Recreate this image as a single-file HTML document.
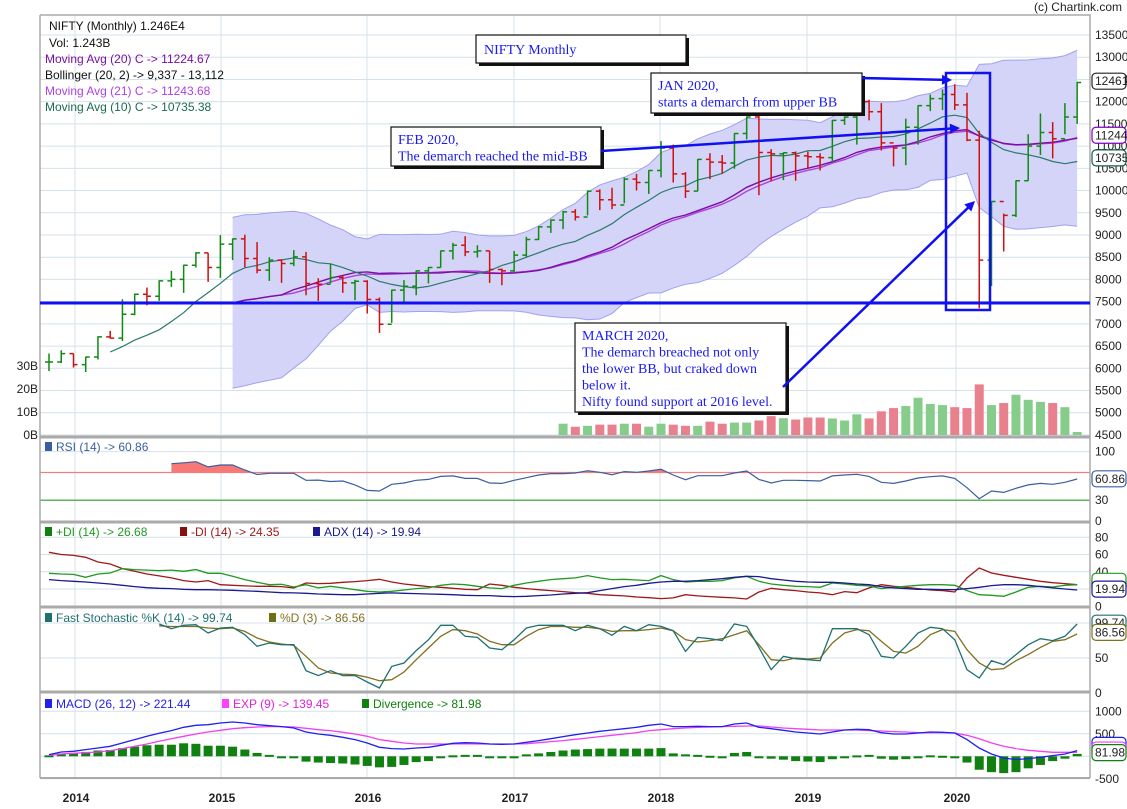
<!DOCTYPE html>
<html><head><meta charset="utf-8"><style>
body{margin:0;background:#fff;}
svg{display:block;font-family:"Liberation Sans",sans-serif;}
.ax{font-size:12px;fill:#222;}
.lg{font-size:12px;}
.an{font-family:"Liberation Serif",serif;font-size:14px;fill:#1a1aee;}
</style></head><body>
<svg id="c" width="1127" height="809" viewBox="0 0 1127 809" xmlns="http://www.w3.org/2000/svg">
<defs>
<clipPath id="rsiclip"><rect x="40" y="438" width="1050" height="34.5"/></clipPath>
</defs>
<g id="grid"></g>
<g id="bands"></g>
<g id="vol"></g>
<g id="lines"></g>
<g id="bars"></g>
<g id="ind"></g>
<g id="frame"></g>
<g id="labels"></g>
<g id="notes"></g>
</svg>
<script>
const highs=[6332,6406,6332,6264,6720,6841,7555,7680,7818,7980,8192,8330,8610,8598,8996,8925,9009,8838,8500,8456,8658,8620,8026,8358,8098,7990,7980,7593,7770,7983,8200,8280,8650,8823,8974,8770,8642,8246,8642,8958,9199,9350,9540,9582,10001,10025,10064,10297,10374,10460,11112,11034,10413,10710,10840,10801,11290,11670,11772,10933,10860,10879,10879,10840,11590,11670,12083,12044,11966,10996,11617,11920,12160,12277,12393,12199,11345,9760,9481,10230,11267,11733,11539,11966,12445];
const lows=[5940,6120,6017,5917,6197,6670,6615,7194,7420,7516,7832,7697,8268,7944,8035,8433,8275,8140,7967,7922,8298,7645,7516,7908,7697,7532,7232,6796,7021,7494,7645,7908,8268,8449,8523,8494,7922,7870,8170,8508,8883,9048,9132,9326,9442,9559,9582,9714,10001,9924,10297,10180,9831,9986,10258,10374,10491,11151,9893,10203,10235,10219,10491,10452,10646,11477,11034,11578,10902,10545,10568,11034,11788,11811,11811,11112,7350,7850,8627,9404,10219,10801,10724,11267,11500];
const closes=[6143,6330,6084,6255,6706,6680,7217,7667,7622,7967,8000,8320,8598,8268,8793,8913,8471,8208,8433,8358,8508,7908,7890,8044,7922,7960,7548,6991,7758,7847,8192,8268,8642,8770,8620,8642,8224,8192,8546,8898,9183,9333,9521,9404,9986,9792,9676,10258,10180,10452,10957,10374,9986,10700,10640,10620,11283,11656,10856,10825,10850,10780,10760,10740,11578,11656,12005,11772,11073,10957,11423,11912,12067,12160,11927,11135,8433,9753,9442,10219,11000,11306,11166,11656,12432];
const volStart=42;
const volumes=[4.9,3.6,4.0,4.5,4.5,4.9,4.9,3.6,4.9,4.5,4.0,4.0,5.8,4.9,5.4,5.4,6.3,8.2,7.3,6.7,7.6,7.6,7.2,6.3,9.0,7.2,10.3,11.7,12.6,16.2,13.5,13.0,12.1,11.7,22.0,13.0,13.9,17.5,15.3,14.4,13.9,12.1,1.3];
const rsiStart=10;
const rsi=[82.7,84,85.6,78,80.8,80.8,73.5,67,68.8,68.8,68.8,58.7,59,57,57.7,52,44.2,43.3,52.9,54.8,58.7,60,64.4,65,61.5,61.5,54.8,54.3,58.7,62.5,66.3,68.3,68.3,69.2,72.6,70.2,66.8,71.2,70.2,72.1,74.5,66.3,59.6,65.4,65.4,65.4,69.2,72.1,60,54.8,58.7,58.7,58.2,57.7,65,66.3,67.3,64.4,55.8,54.3,57.7,62,63.9,65,61.5,48,32.2,43.3,41.3,47.1,52,54.3,52.9,55.8,60.6];
const plusDI=[38.3,37.5,37,33.6,37.5,38.6,43.7,42.5,42,41.4,42,40.6,42.5,38.3,38.3,34.8,30.9,27.8,25.1,25.5,22.4,25.1,21.3,23.2,21.3,19.3,17.4,16.6,17.4,18.9,20.5,21.3,24.3,25.9,25.1,23.2,21.3,20.5,24.3,27,29,30.9,32,32.9,35.6,32.9,30.9,31.3,30.5,29.8,35.6,30.9,28.2,29,29,29.8,32.9,34.8,29,25.9,24.3,23.2,22.8,22,27,25.9,24.3,23.6,20.5,22,23.2,24.3,25.1,25.1,24.3,18.2,13.5,12.8,11.6,16.6,22,23.2,22.4,24.3,25.1];
const minusDI=[62.6,60,59,56.8,51.4,49,43.7,40.6,37.5,35.2,32.9,29.8,28.2,29.8,25.1,24.3,23.6,23.2,23.2,22.8,21.3,27,26.3,26.7,27.8,28.6,29.8,31.3,28.2,25.9,24.3,22.8,22,20.9,19.7,19.3,25.9,24.3,22,20.5,19.3,18.2,17,15.8,15.1,13.5,12.8,12,10.8,10,8.9,9.7,13.5,12,11.2,10.4,9.7,8.5,16.6,20.9,19.3,18.2,16.6,15.5,13.5,17,15.8,21.3,25.1,23.2,22,20.5,18.9,18.2,16.6,32.9,44.4,38.6,35.9,33.6,31.3,29,27.4,26.3,25.1];
const adx=[30.9,29.8,29,28.2,27,25.9,24.3,22.8,21.6,20.9,20.5,19.7,19.3,19.3,18.9,18.6,17.8,17.4,16.6,15.8,15.5,15.1,14.3,13.9,13.5,13.5,14.3,15.1,15.5,15.1,14.7,14.3,13.9,13.5,12.8,12.4,12.4,11.6,11.2,11.6,12.4,13.1,14.3,15.1,15.8,18.2,20.5,22.8,24.3,26.7,28.2,29,29,29.8,30.9,32,33.6,34.8,34.4,32,30.5,29,28.2,27.8,27.8,27,25.9,25.1,22.8,21.3,20.5,19.7,19.7,19.3,19.3,20.5,22,24,25.1,25.1,24.3,22.8,21.3,20,18.9];
const stochStart=9;
const stochK=[98.6,91.9,96.7,97.6,85.7,92.9,93.8,83.3,66.7,71.4,69,69,31.9,24.8,31.9,24.8,24.8,15.7,7.1,38,42.9,60.5,76,96.7,96.7,81,79.5,64.3,61.9,76,92.9,96.7,96.7,96.7,89,96.7,91.9,82.4,95.2,89,97.6,95.2,89,59.5,79.5,77.6,74.8,98.6,95.2,65.2,33.3,52.4,49,47.6,46.2,91.9,91.9,91.9,83.3,52.4,50,66.7,85.7,93.8,91.9,76,33.3,21.4,46.2,40.5,54.8,69,77.6,74.8,81,98.6];
const stochD=[96,95,95,95,92.9,91.9,92.9,88,78.6,72.9,70,68,52.4,35.7,28.6,27,26.2,22.4,17.6,19,30,47.6,64.3,81,90.5,89,84.3,73.8,69,69,81,90.5,95,95,93.8,93.8,91.9,88,89,89,90.5,92.9,89,76.2,72.9,74.8,77.6,83.3,89,69,47.6,46.2,50,48.6,50,71.4,85.7,90.5,89,73.8,59.5,57,66.7,83.3,90.5,88,61.9,42.9,33.3,34.8,46.2,54.8,65.2,73.8,76.2,84.3];
const macd=[37,96,111,148,185,222,296,370,444,511,570,644,688,703,740,762,740,703,681,659,629,540,496,466,422,370,296,200,170,163,185,200,244,289,303,296,274,266,274,311,348,392,437,481,518,555,585,614,644,688,718,659,659,666,659,659,718,740,644,614,577,540,518,496,540,585,599,592,525,496,496,518,540,533,518,370,185,52,-37,-74,-52,-22,15,52,126];
const signal=[22,52,67,81,96,126,170,222,274,333,392,444,496,540,577,614,636,651,659,659,651,622,592,570,533,496,444,370,333,296,274,274,274,274,281,274,274,274,274,281,303,326,348,377,407,437,466,496,525,570,592,614,629,644,651,659,666,673,673,651,629,614,599,585,585,585,585,570,562,548,540,525,525,525,518,466,392,296,222,170,133,111,89,89,89];
const yearLabels=['2014','2015','2016','2017','2018','2019','2020'];
const yearX=[76,222,368,515,661,808,957];
const priceTicks=[4500,5000,5500,6000,6500,7000,7500,8000,8500,9000,9500,10000,10500,11000,11500,12000,12500,13000,13500];

const NS='http://www.w3.org/2000/svg';
function mk(parent,tag,attrs,text){const e=document.createElementNS(NS,tag);for(const k in attrs)e.setAttribute(k,attrs[k]);if(text!==undefined)e.textContent=text;document.getElementById(parent).appendChild(e);return e;}
const X=i=>49+12.24*i;
const PY=v=>35+(13500-v)*0.04444;
const VY=b=>435-b*2.3;
const RY=v=>521-v*0.6933;
const DY=v=>606.3-v*0.8625;
const SY=v=>693-v*0.7;
const MY=v=>756.3-v*0.045;
const HY=v=>756.3-v*0.065;
const L=40,R=1090;

priceTicks.forEach(t=>{const g=mk('grid','line',{x1:L,x2:R,y1:PY(t),y2:PY(t),stroke:'#d4e2ea','stroke-width':1});

});
[[RY,[100,70,30,0]],[DY,[80,60,40,20]],[SY,[100,50]],[MY,[1000,500,0,-500]]].forEach(([f,ts])=>ts.forEach(t=>{const g=mk('grid','line',{x1:L,x2:R,y1:f(t),y2:f(t),stroke:'#d4e2ea'});

}));
yearX.forEach(x=>{const g=mk('grid','line',{x1:x-1,x2:x-1,y1:15,y2:778,stroke:'#d4e2ea'});

});

function sma(n,start){const out=[];for(let i=0;i<closes.length;i++){if(i<start){out.push(null);continue;}const a=closes.slice(Math.max(0,i-n+1),i+1);out.push(a.reduce((s,v)=>s+v,0)/a.length);}return out;}
function sd(n,start,m){return closes.map((_,i)=>{if(i<start)return null;const a=closes.slice(Math.max(0,i-n+1),i+1);return Math.sqrt(a.reduce((s,v)=>s+(v-m[i])**2,0)/a.length);});}
const ma20=sma(20,15),ma21=sma(21,15),ma10=sma(10,5),sd20=sd(20,15,ma20);
const up=ma20.map((m,i)=>m===null?null:m+2*sd20[i]),lo=ma20.map((m,i)=>m===null?null:m-2*sd20[i]);
let bu='',bl='';
for(let i=15;i<closes.length;i++){bu+=(i==15?'M':'L')+X(i)+','+PY(up[i]);}
for(let i=closes.length-1;i>=15;i--){bl+=(i==closes.length-1?'M':'L')+X(i)+','+PY(lo[i]);}
const band=mk('bands','path',{d:bu+bl.replace('M','L')+'Z',fill:'#d4d4f8',stroke:'none'});


const ub=mk('bands','path',{d:bu,fill:'none',stroke:'#a0a0f0'});


const lb=mk('bands','path',{d:bl,fill:'none',stroke:'#a0a0f0'});



function line(parent,arr,start,f,color,w,name){let d='';arr.forEach((v,k)=>{if(v===null)return;const i=k+start;d+=(d?'L':'M')+X(i).toFixed(1)+','+f(v).toFixed(1);});const p=mk(parent,'path',{d:d,fill:'none',stroke:color,'stroke-width':w});
return p;}

volumes.forEach((v,k)=>{const i=k+volStart;const c=closes[i]>=closes[i-1]?'#86cc8a':'#e8808e';const r=mk('vol','rect',{x:X(i)-4.5,y:VY(v),width:9,height:435-VY(v),fill:c});

});

line('lines',ma21,0,PY,'#b040e0',1.4,'ma21-line');
line('lines',ma20,0,PY,'#7a10a0',1.4,'ma20-line');
line('lines',ma10,0,PY,'#2a7a6a',1.2,'ma10-line');

closes.forEach((c,i)=>{const o=i?closes[i-1]:c;const col=c>=o?'#108a10':'#d01010';const x=X(i);
const g=mk('bars','path',{d:`M${x},${PY(highs[i])}V${PY(lows[i])}M${x-4},${PY(o)}H${x}M${x},${PY(c)}H${x+4}`,stroke:col,'stroke-width':1.5,fill:'none'});

});

let rd='';rsi.forEach((v,k)=>{rd+=(rd?'L':'M')+X(k+rsiStart)+','+RY(v);});
const rf=mk('ind','path',{d:rd+`L${X(rsi.length-1+rsiStart)},${RY(70)}L${X(rsiStart)},${RY(70)}Z`,fill:'#f87878','clip-path':'url(#rsiclip)'});


const l70=mk('ind','line',{x1:L,x2:R,y1:RY(70),y2:RY(70),stroke:'#f08080','stroke-width':1.2});


const l30=mk('ind','line',{x1:L,x2:R,y1:RY(30),y2:RY(30),stroke:'#30a030','stroke-width':1.2});


line('ind',rsi,rsiStart,RY,'#3a5fa0',1.2,'rsi-line');
line('ind',minusDI,0,DY,'#a01818',1.3,'minus-di-line');
line('ind',plusDI,0,DY,'#229922',1.3,'plus-di-line');
line('ind',adx,0,DY,'#1a1a90',1.3,'adx-line');
line('ind',stochD,stochStart,SY,'#807020',1.3,'stoch-d-line');
line('ind',stochK,stochStart,SY,'#207070',1.3,'stoch-k-line');
macd.forEach((m,i)=>{const d=m-signal[i];const y0=HY(0),y1=HY(d);const r=mk('ind','rect',{x:X(i)-4.5,y:Math.min(y0,y1),width:9,height:Math.max(2,Math.abs(y1-y0)),fill:'#108010'});

});
line('ind',signal,0,MY,'#f040f0',1.3,'macd-signal-line');
line('ind',macd,0,MY,'#2020f0',1.3,'macd-line');

[[437,3],[522,3],[607,3],[692,3],[778,2]].forEach(([y,w])=>{const s=mk('frame','line',{x1:L,x2:R,y1:y,y2:y,stroke:'#aaa','stroke-width':w});

});
const fr=mk('frame','path',{d:`M${L},15H${R}V778M${L},15V778`,stroke:'#aaa','stroke-width':1.5,fill:'none'});



function txt(x,y,s,cls,extra){const t=mk('labels','text',Object.assign({x:x,y:y,class:cls},extra||{}),s);return t;}
priceTicks.forEach(t=>{const e=txt(1095,PY(t)+4,String(t),'ax');

});
[['30B',366],['20B',389],['10B',412],['0B',435]].forEach(([s,y])=>{const e=txt(38,y+4,s,'ax',{'text-anchor':'end'});

});
[['100',RY(100)],['0',RY(0)],['80',DY(80)],['60',DY(60)],['40',DY(40)],['0',DY(0)],['50',SY(50)],['0',SY(0)],['1000',MY(1000)],['500',MY(500)],['-500',MY(-500)]].forEach(([s,y])=>{const e=txt(1095,y+4,s,'ax');

});
const t30=txt(1095,RY(30)+4,'30','ax',{fill:'#30a030'});


yearLabels.forEach((s,k)=>{const e=txt(yearX[k],802,s,'ax',{'text-anchor':'middle','font-weight':'bold','font-size':'11'});

});
function vbox(y,s,col,tc){const r=mk('labels','rect',{x:1092,y:y-8,width:34,height:16,rx:4,fill:'#fff',stroke:col,'stroke-width':1.2});


const e=txt(1095,y+4,s,'ax',{fill:tc||'#222'});

}
vbox(PY(12461),'12461','#222','#8a4a00');
vbox(PY(11244),'11244','#8000c0');
vbox(PY(10735),'10735','#106040');
vbox(RY(60.86),'60.86','#3a5fa0');
vbox(DY(24.35)-1,'','#a01818');vbox(DY(26.68)-2,'','#229922');vbox(DY(19.94),'19.94','#1a1a90');
vbox(SY(99.74),'99.74','#207070');vbox(SY(86.56),'86.56','#807020');
vbox(MY(221)-1,'','#2020f0');vbox(MY(139),'','#f040f0');vbox(MY(82),'81.98','#108010');
const cp=txt(1122,11,'(c) Chartink.com','ax',{'text-anchor':'end','font-size':'11'});



function leg(x,y,s,c,sw){if(sw){const r=mk('labels','rect',{x:x,y:y-9,width:7,height:9,fill:sw});
x+=11;}
const e=txt(x,y,s,'lg',{fill:c});

}
leg(49,30,'NIFTY (Monthly) 1.246E4','#111');
leg(49,47,'Vol: 1.243B','#111');
leg(45,63,'Moving Avg (20) C -> 11224.67','#7a10a0');
leg(45,79,'Bollinger (20, 2) -> 9,337 - 13,112','#111');
leg(45,95,'Moving Avg (21) C -> 11243.68','#b040e0');
leg(45,111,'Moving Avg (10) C -> 10735.38','#1a6a50');
leg(45,451,'RSI (14) -> 60.86','#3a5fa0','#3a5fa0');
leg(45,536,'+DI (14) -> 26.68','#229922','#108010');
leg(180,536,'-DI (14) -> 24.35','#a01818','#8a1010');
leg(313,536,'ADX (14) -> 19.94','#1a1a90','#1a1a90');
leg(45,622,'Fast Stochastic %K (14) -> 99.74','#207070','#207070');
leg(269,622,'%D (3) -> 86.56','#807020','#707010');
leg(45,708,'MACD (26, 12) -> 221.44','#2020f0','#2020f0');
leg(222,708,'EXP (9) -> 139.45','#e020e0','#ff40ff');
leg(362,708,'Divergence -> 81.98','#108010','#108010');
</script>
<script>
(function(){
const svg=document.getElementById('notes');
const NS='http://www.w3.org/2000/svg';
function el(tag,a,t){const e=document.createElementNS(NS,tag);for(const k in a)e.setAttribute(k,a[k]);if(t!==undefined)e.textContent=t;svg.appendChild(e);return e;}
const hl=el('line',{x1:40,x2:1090,y1:303,y2:303,stroke:'#1010f0','stroke-width':3});


const rc=el('rect',{x:946,y:73,width:44,height:237,fill:'none',stroke:'#1010f0','stroke-width':2.5});


function box(x,y,w,h,lines,name){const g=document.createElementNS(NS,'g');svg.appendChild(g);


const s=document.createElementNS(NS,'rect');[['x',x+3],['y',y+3],['width',w],['height',h],['fill','#111']].forEach(([k,v])=>s.setAttribute(k,v));g.appendChild(s);
const r=document.createElementNS(NS,'rect');[['x',x],['y',y],['width',w],['height',h],['fill','#fff'],['stroke','#111'],['stroke-width',1.2]].forEach(([k,v])=>r.setAttribute(k,v));g.appendChild(r);
lines.forEach((t,k)=>{const e=document.createElementNS(NS,'text');e.setAttribute('x',x+(name==='title-box'?8:7));e.setAttribute('y',y+(name==='title-box'?19:17)+k*16.5);e.setAttribute('class','an');if(name==='title-box')e.setAttribute('font-size','18');e.textContent=t;g.appendChild(e);});}
box(476,35,210,28,['NIFTY Monthly'],'title-box');
box(651,73,211,40,['JAN 2020,','starts a demarch from upper BB'],'jan-2020-note');
box(391,127,210,39,['FEB 2020,','The demarch reached the mid-BB'],'feb-2020-note');
box(575,323,211,89,['MARCH 2020,','The demarch breached not only','the lower BB, but craked down','below it.','Nifty found support at 2016 level.'],'march-2020-note');
function arrow(x1,y1,x2,y2,name){const a=Math.atan2(y2-y1,x2-x1),L=10,W=5;
const p=el('path',{d:`M${x1},${y1}L${x2-Math.cos(a)*6},${y2-Math.sin(a)*6}`,stroke:'#1010f0','stroke-width':2.5,fill:'none'});


const h=el('path',{d:`M${x2},${y2}L${x2-L*Math.cos(a)+W*Math.sin(a)},${y2-L*Math.sin(a)-W*Math.cos(a)}L${x2-L*Math.cos(a)-W*Math.sin(a)},${y2-L*Math.sin(a)+W*Math.cos(a)}Z`,fill:'#1010f0'});

}
arrow(862,78,952,80,'jan-arrow');
arrow(601,151,960,128,'feb-arrow');
arrow(783,387,975,201,'march-arrow');
})();
</script>
</body></html>
